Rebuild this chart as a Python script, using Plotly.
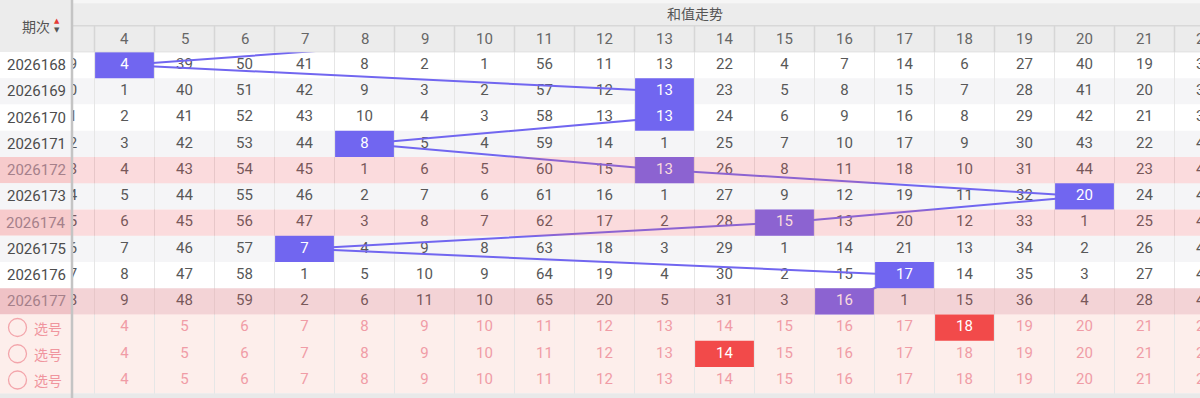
import plotly.graph_objects as go

# ---------------- data ----------------
periods = ["2026168", "2026169", "2026170", "2026171", "2026172",
           "2026173", "2026174", "2026175", "2026176", "2026177"]
sum_cols = list(range(3, 23))          # visible sum-value columns (3 and 22 are partly scrolled out)
omit_rows = [
    [109, 4, 39, 50, 41, 8, 2, 1, 56, 11, 13, 22, 4, 7, 14, 6, 27, 40, 19, 37],
    [110, 1, 40, 51, 42, 9, 3, 2, 57, 12, 13, 23, 5, 8, 15, 7, 28, 41, 20, 38],
    [111, 2, 41, 52, 43, 10, 4, 3, 58, 13, 13, 24, 6, 9, 16, 8, 29, 42, 21, 39],
    [112, 3, 42, 53, 44, 8, 5, 4, 59, 14, 1, 25, 7, 10, 17, 9, 30, 43, 22, 40],
    [113, 4, 43, 54, 45, 1, 6, 5, 60, 15, 13, 26, 8, 11, 18, 10, 31, 44, 23, 41],
    [114, 5, 44, 55, 46, 2, 7, 6, 61, 16, 1, 27, 9, 12, 19, 11, 32, 20, 24, 42],
    [115, 6, 45, 56, 47, 3, 8, 7, 62, 17, 2, 28, 15, 13, 20, 12, 33, 1, 25, 43],
    [116, 7, 46, 57, 7, 4, 9, 8, 63, 18, 3, 29, 1, 14, 21, 13, 34, 2, 26, 44],
    [117, 8, 47, 58, 1, 5, 10, 9, 64, 19, 4, 30, 2, 15, 17, 14, 35, 3, 27, 45],
    [118, 9, 48, 59, 2, 6, 11, 10, 65, 20, 5, 31, 3, 16, 1, 15, 36, 4, 28, 46],
]
hit_values = [4, 13, 13, 8, 13, 20, 15, 7, 17, 16]
prev_hit = 10
highlight_periods = ["2026172", "2026174", "2026177"]
pick_label = "选号"
pick_selected = [18, 14, None]
title_text = "和值走势"
period_header = "期次"

# ---------------- geometry (layout only) ----------------
W, H = 1200, 398
FROZEN_PX = 73
COL_PX = 60.0
ROW_PX = 26.25
C4_PX = 124.5
R0_PX = 65.0
x_lo = 4 + (FROZEN_PX - C4_PX) / COL_PX
x_hi = 4 + (W - C4_PX) / COL_PX
y_top = -R0_PX / ROW_PX
y_bot = (H - R0_PX) / ROW_PX
fz = FROZEN_PX / W

FONT = "Roboto, 'Noto Sans CJK SC', sans-serif"
CJK = "'Noto Sans CJK SC', Roboto, sans-serif"
BLUE = "#7166f0"
RED = "#f24a4a"
PINK_TXT = "#f09ca6"
PEACH = "#fdeeeb"
GRAY_ROW = "#f5f5f7"
HEAD = "#ececec"

n_rows = len(periods)
pick_rows = list(range(n_rows, n_rows + len(pick_selected)))

fig = go.Figure()

# regular omission numbers
tx, ty, tt = [], [], []
for r, row in enumerate(omit_rows):
    for c, v in zip(sum_cols, row):
        if c == hit_values[r]:
            continue
        tx.append(c); ty.append(r); tt.append(str(v))
fig.add_trace(go.Scatter(x=tx, y=ty, text=tt, mode="text", cliponaxis=True,
                         textfont=dict(family=FONT, size=15, color="#585858"),
                         hoverinfo="skip", showlegend=False))

# pick rows numbers
px_, py_, pt_ = [], [], []
for i, r in enumerate(pick_rows):
    for c in sum_cols:
        if c == pick_selected[i]:
            continue
        px_.append(c); py_.append(r); pt_.append(str(c))
fig.add_trace(go.Scatter(x=px_, y=py_, text=pt_, mode="text", cliponaxis=True,
                         textfont=dict(family=FONT, size=15, color=PINK_TXT),
                         hoverinfo="skip", showlegend=False))

# trend line
fig.add_trace(go.Scatter(x=[prev_hit] + hit_values, y=[-1] + list(range(n_rows)),
                         mode="lines", line=dict(color=BLUE, width=2),
                         hoverinfo="skip", showlegend=False))


def cell_poly(cols, rows, hw=0.49, hh=0.5):
    xs, ys = [], []
    for c, r in zip(cols, rows):
        xs += [c - hw, c + hw, c + hw, c - hw, c - hw, None]
        ys += [r - hh, r - hh, r + hh, r + hh, r - hh, None]
    return xs, ys


hx, hy = cell_poly(hit_values, list(range(n_rows)))
fig.add_trace(go.Scatter(x=hx, y=hy, mode="lines", fill="toself", fillcolor=BLUE,
                         line=dict(width=0, color=BLUE), hoverinfo="skip", showlegend=False))
fig.add_trace(go.Scatter(x=hit_values, y=list(range(n_rows)), text=[str(v) for v in hit_values],
                         mode="text", textfont=dict(family=FONT, size=15, color="white"),
                         hoverinfo="skip", showlegend=False))

sel_c = [c for c in pick_selected if c is not None]
sel_r = [r for r, c in zip(pick_rows, pick_selected) if c is not None]
sx, sy = cell_poly(sel_c, sel_r)
fig.add_trace(go.Scatter(x=sx, y=sy, mode="lines", fill="toself", fillcolor=RED,
                         line=dict(width=0, color=RED), hoverinfo="skip", showlegend=False))
fig.add_trace(go.Scatter(x=sel_c, y=sel_r, text=[str(c) for c in sel_c], mode="text",
                         textfont=dict(family=FONT, size=15, color="white"),
                         hoverinfo="skip", showlegend=False))

shapes = []
# row backgrounds
for r in range(n_rows):
    shapes.append(dict(type="rect", xref="paper", yref="y", x0=0, x1=1, y0=r - 0.5, y1=r + 0.5,
                       fillcolor="white" if r % 2 == 0 else GRAY_ROW, line=dict(width=0), layer="below"))
shapes.append(dict(type="rect", xref="paper", yref="y", x0=0, x1=1, y0=pick_rows[0] - 0.5,
                   y1=pick_rows[-1] + 0.5, fillcolor=PEACH, line=dict(width=0), layer="below"))
# pink highlight overlay
for r, p in enumerate(periods):
    if p in highlight_periods:
        shapes.append(dict(type="rect", xref="paper", yref="y", x0=fz, x1=1, y0=r - 0.5, y1=r + 0.5,
                           fillcolor="rgba(236,90,100,0.22)", line=dict(width=0), layer="above"))
# bottom strip
shapes.append(dict(type="rect", xref="paper", yref="y", x0=0, x1=1, y0=pick_rows[-1] + 0.5, y1=y_bot,
                   fillcolor="#e9e9e9", line=dict(width=0), layer="above"))
# header
shapes.append(dict(type="rect", xref="paper", yref="y", x0=0, x1=1, y0=y_top, y1=-0.5,
                   fillcolor=HEAD, line=dict(width=0), layer="above"))
shapes.append(dict(type="rect", xref="paper", yref="y", x0=0, x1=1, y0=y_top, y1=y_top + 0.12,
                   fillcolor="#f6f6f6", line=dict(width=0), layer="above"))
shapes.append(dict(type="line", xref="paper", yref="y", x0=fz, x1=1, y0=-1.5, y1=-1.5,
                   line=dict(color="#d8d8d8", width=1.5), layer="above"))
shapes.append(dict(type="line", xref="paper", yref="y", x0=0, x1=1, y0=-0.5, y1=-0.5,
                   line=dict(color="#e0e0e0", width=1), layer="above"))
for c in sum_cols:
    shapes.append(dict(type="line", xref="x", yref="y", x0=c + 0.5, x1=c + 0.5, y0=-1.5, y1=-0.5,
                       line=dict(color="#d6d6d6", width=1.5), layer="above"))
# frozen column cells
for r, p in enumerate(periods):
    if p in highlight_periods:
        col = "#efc2c6" if r % 2 else "#f7cbcc"
    else:
        col = "white" if r % 2 == 0 else GRAY_ROW
    shapes.append(dict(type="rect", xref="paper", yref="y", x0=0, x1=fz, y0=r - 0.5, y1=r + 0.5,
                       fillcolor=col, line=dict(width=0), layer="above"))
shapes.append(dict(type="rect", xref="paper", yref="y", x0=0, x1=fz, y0=y_top, y1=-0.5,
                   fillcolor=HEAD, line=dict(width=0), layer="above"))
shapes.append(dict(type="rect", xref="paper", yref="y", x0=0, x1=fz, y0=pick_rows[0] - 0.5,
                   y1=pick_rows[-1] + 0.5, fillcolor=PEACH, line=dict(width=0), layer="above"))
shapes.append(dict(type="line", xref="paper", yref="paper", x0=72 / W, x1=72 / W, y0=0, y1=1,
                   line=dict(color="#c4c4c4", width=2.5), layer="above"))
# pick circles
for r in pick_rows:
    shapes.append(dict(type="circle", xref="paper", yref="y", x0=8.5 / W, x1=26.5 / W,
                       y0=r - 9 / ROW_PX, y1=r + 9 / ROW_PX,
                       line=dict(color="#f3a5ab", width=1.3), fillcolor="rgba(0,0,0,0)", layer="above"))


def pann(xpx, y, text, font):
    return dict(x=xpx / W, y=y, xref="paper", yref="y", text=text, showarrow=False,
                xanchor="center", yanchor="middle", font=font)


ann = []
for c in sum_cols:
    if x_lo + 0.3 < c < x_hi:
        ann.append(dict(x=c, y=-1, xref="x", yref="y", text=str(c), showarrow=False,
                        xanchor="center", yanchor="middle",
                        font=dict(family=FONT, size=15, color="#666666")))
    elif c >= x_hi:
        # partly scrolled-out header on the right edge
        ann.append(pann(FROZEN_PX + (c - x_lo) * COL_PX, -1, str(c),
                        dict(family=FONT, size=15, color="#666666")))

ann.append(pann(695, -2, title_text, dict(family=CJK, size=14, color="#555555")))
ann.append(pann(36, -1.5, period_header, dict(family=CJK, size=14, color="#555555")))
ann.append(pann(57, -1.68, "▲", dict(family="DejaVu Sans", size=7, color="#e53935")))
ann.append(pann(57, -1.33, "▼", dict(family="DejaVu Sans", size=7, color="#555555")))
for r, p in enumerate(periods):
    colr = "#a5808a" if p in highlight_periods else "#4d4d4d"
    ann.append(pann(36, r, p, dict(family=FONT, size=15, color=colr)))
for r in pick_rows:
    ann.append(pann(47.5, r, pick_label, dict(family=CJK, size=14, color="#f0959e")))

fig.update_layout(
    width=W, height=H, margin=dict(l=0, r=0, t=0, b=0),
    paper_bgcolor="white", plot_bgcolor="white",
    xaxis=dict(domain=[fz, 1], range=[x_lo, x_hi], tickvals=[c + 0.5 for c in sum_cols],
               showticklabels=False, ticks="", showgrid=True, gridcolor="#e6e6e6", gridwidth=1,
               zeroline=False, showline=False, fixedrange=True),
    yaxis=dict(domain=[0, 1], range=[y_bot, y_top], showgrid=False, showticklabels=False,
               ticks="", zeroline=False, showline=False, fixedrange=True),
    shapes=shapes, annotations=ann, showlegend=False,
)

fig.write_html("out.html", config={"displayModeBar": False})
